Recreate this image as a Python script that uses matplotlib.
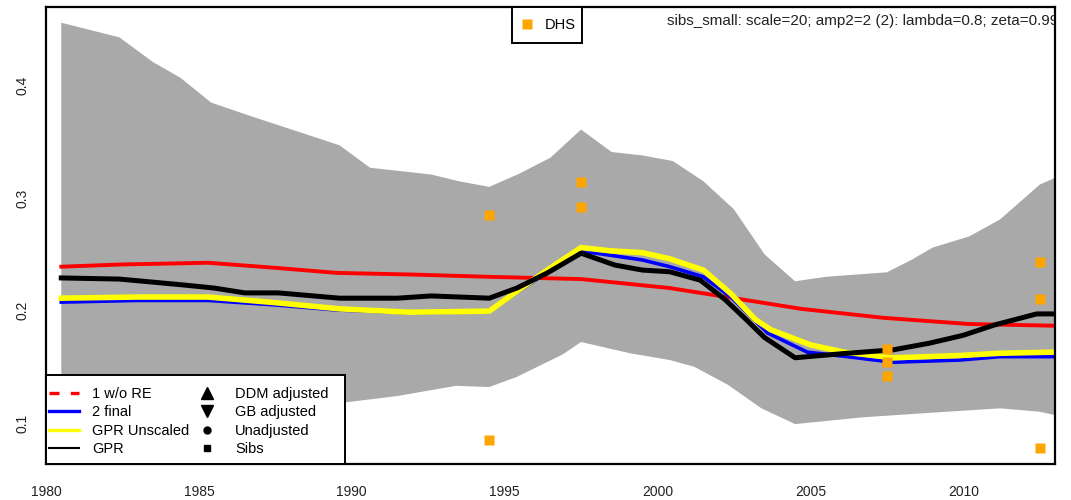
import numpy as np
import matplotlib
matplotlib.use("Agg")
from matplotlib import pyplot as plt
from matplotlib.lines import Line2D
from matplotlib.patches import Rectangle

plt.rcParams['font.family'] = ['Liberation Sans', 'DejaVu Sans']

# uncertainty band (grey)
band_up_x = [1980.5, 1982.4, 1983.5, 1984.4, 1985.4, 1986.8, 1987.7, 1989.6, 1990.6, 1991.6,
             1992.6, 1993.5, 1994.5, 1995.5, 1996.5, 1997.5, 1998.5, 1999.5, 2000.5, 2001.5,
             2002.5, 2003.5, 2004.5, 2005.5, 2006.5, 2007.5, 2008.3, 2009.0, 2010.2, 2011.2,
             2012.0, 2012.5, 2013.0]
band_up = [0.456, 0.443, 0.421, 0.407, 0.385, 0.372, 0.364, 0.347, 0.327, 0.324,
           0.321, 0.315, 0.310, 0.322, 0.336, 0.361, 0.341, 0.338, 0.333, 0.315,
           0.290, 0.250, 0.226, 0.230, 0.232, 0.234, 0.245, 0.256, 0.266, 0.281,
           0.300, 0.312, 0.318]
band_low_x = [1980.5, 1985.0, 1989.7, 1991.5, 1993.4, 1994.5, 1995.4, 1996.9, 1997.5, 1999.1,
              2000.4, 2001.2, 2002.3, 2003.4, 2004.5, 2006.7, 2008.9, 2011.2, 2012.5, 2013.0]
band_low = [0.085, 0.098, 0.118, 0.124, 0.133, 0.132, 0.141, 0.161, 0.172, 0.162,
            0.156, 0.150, 0.134, 0.113, 0.099, 0.105, 0.109, 0.113, 0.110, 0.107]

# 1 w/o RE (red)
red_x = [1980.5, 1982.5, 1985.3, 1987.5, 1989.5, 1992.0, 1994.5, 1997.5, 2000.4, 2002.5,
         2004.7, 2007.4, 2010.2, 2013.0]
red_y = [0.239, 0.241, 0.2425, 0.238, 0.2335, 0.232, 0.230, 0.228, 0.220, 0.211,
         0.2015, 0.1935, 0.188, 0.1865]

# 2 final (blue)
blue_x = [1980.5, 1983.0, 1985.3, 1987.5, 1989.5, 1992.0, 1994.5, 1995.5, 1996.5, 1997.5,
          1998.5, 1999.5, 2000.4, 2001.5, 2002.4, 2003.6, 2004.9, 2006.2, 2007.7, 2009.9,
          2011.2, 2013.0]
blue_y = [0.2075, 0.209, 0.209, 0.205, 0.2005, 0.198, 0.199, 0.218, 0.236, 0.253,
          0.249, 0.245, 0.239, 0.230, 0.212, 0.180, 0.163, 0.159, 0.154, 0.156,
          0.159, 0.159]

# GPR Unscaled (yellow)
yel_x = [1980.5, 1983.0, 1985.3, 1987.5, 1989.6, 1991.9, 1994.5, 1995.5, 1996.5, 1997.5,
         1998.5, 1999.5, 2000.4, 2001.5, 2002.4, 2003.2, 2003.7, 2005.0, 2006.1, 2007.7,
         2009.9, 2011.2, 2013.0]
yel_y = [0.211, 0.212, 0.212, 0.207, 0.2015, 0.1985, 0.1995, 0.219, 0.238, 0.256,
         0.253, 0.2515, 0.246, 0.236, 0.215, 0.192, 0.183, 0.1695, 0.163, 0.158,
         0.160, 0.162, 0.163]

# GPR (black)
gpr_x = [1980.5, 1982.4, 1984.4, 1985.5, 1986.5, 1987.6, 1989.6, 1991.5, 1992.6, 1994.5,
         1995.4, 1996.4, 1997.5, 1998.6, 1999.5, 2000.4, 2001.4, 2002.2, 2002.9, 2003.5,
         2004.5, 2006.2, 2007.7, 2008.9, 2010.0, 2011.0, 2012.4, 2013.0]
gpr_y = [0.229, 0.228, 0.223, 0.220, 0.2157, 0.2157, 0.211, 0.211, 0.213, 0.211,
         0.220, 0.2335, 0.251, 0.2405, 0.236, 0.2345, 0.227, 0.210, 0.192, 0.176,
         0.158, 0.162, 0.165, 0.171, 0.178, 0.187, 0.197, 0.197]

# DHS sibs points
dhs_x = [1994.5, 1994.5, 1997.5, 1997.5, 2007.5, 2007.5, 2007.5, 2012.5, 2012.5, 2012.5]
dhs_y = [0.285, 0.085, 0.3146, 0.292, 0.166, 0.154, 0.142, 0.2435, 0.210, 0.078]

x_ticks = [1980, 1985, 1990, 1995, 2000, 2005, 2010]
y_ticks = [0.1, 0.2, 0.3, 0.4]
title_txt = "sibs_small: scale=20; amp2=2 (2): lambda=0.8; zeta=0.99"


def main():
    fig = plt.figure(figsize=(10.71, 5.0), dpi=100)
    ax = fig.add_axes([46 / 1071, 36 / 500, (1055 - 46) / 1071, (493 - 36) / 500])

    poly_x = np.concatenate([band_up_x, band_low_x[::-1]])
    poly_y = np.concatenate([band_up, band_low[::-1]])
    ax.fill(poly_x, poly_y, color='#A9A9A9', lw=0, zorder=1)

    ax.plot(red_x, red_y, color='red', lw=2.8, zorder=2)
    ax.plot(blue_x, blue_y, color='blue', lw=2.6, zorder=3)
    ax.plot(yel_x, yel_y, color='yellow', lw=4.0, zorder=4)
    ax.plot(gpr_x, gpr_y, color='black', lw=3.6, zorder=5)
    ax.plot(dhs_x, dhs_y, ls='none', marker='s', ms=7.8, color='#FFA500', mec='none', zorder=6)

    ax.set_xlim(1980, 2013)
    ax.set_ylim(0.0635, 0.470)
    ax.set_xticks(x_ticks)
    ax.set_yticks(y_ticks)
    ax.set_yticklabels([str(v) for v in y_ticks], rotation=90, va='center')
    ax.tick_params(axis='both', length=0, labelsize=10, colors='#222222')
    ax.tick_params(axis='x', pad=15)
    ax.tick_params(axis='y', pad=12)
    for s in ax.spines.values():
        s.set_linewidth(1.6)
        s.set_zorder(10)

    ax.text(0.6155, 0.97, title_txt, transform=ax.transAxes, fontsize=11.0,
            ha='left', va='center', clip_on=True, color='#222222')

    # main legend, bottom left (frame drawn as a box, R style)
    W, H = 1009.0, 457.0
    ax.add_patch(Rectangle((0, 0), (345 - 46) / W, (464 - 375) / H, transform=ax.transAxes,
                           fc='white', ec='black', lw=1.4, zorder=19))
    handles = [
        Line2D([], [], color='red', lw=2.4, ls=(0, (3.0, 3.4))),
        Line2D([], [], color='blue', lw=2.4),
        Line2D([], [], color='yellow', lw=2.4),
        Line2D([], [], color='black', lw=1.5),
        Line2D([], [], color='black', ls='none', marker='^', ms=8),
        Line2D([], [], color='black', ls='none', marker='v', ms=8),
        Line2D([], [], color='black', ls='none', marker='o', ms=5),
        Line2D([], [], color='black', ls='none', marker='s', ms=5),
    ]
    labels = ['1 w/o RE', '2 final', 'GPR Unscaled', 'GPR',
              'DDM adjusted', 'GB adjusted', 'Unadjusted', 'Sibs']
    leg = ax.legend(handles, labels, loc='center left', ncol=2, fontsize=10.5,
                    bbox_to_anchor=(3 / W, (464 - 421.5) / H), frameon=False,
                    borderaxespad=0, borderpad=0, handlelength=2.05, handletextpad=0.89,
                    columnspacing=0.2, labelspacing=0.29)
    leg.set_zorder(20)
    ax.add_artist(leg)

    # DHS legend at top
    ax.add_patch(Rectangle(((512 - 46) / W, 1 - 36 / H), 70 / W, 36 / H, transform=ax.transAxes,
                           fc='white', ec='black', lw=1.4, zorder=19))
    dhs_h = [Line2D([], [], color='#FFA500', ls='none', marker='s', ms=7.8, mec='none')]
    leg2 = ax.legend(dhs_h, ['DHS'], loc='center left', fontsize=10.5, frameon=False,
                     bbox_to_anchor=((520 - 46) / W, 1 - 18 / H), borderaxespad=0,
                     borderpad=0, handlelength=1.0, handletextpad=0.71)
    leg2.set_zorder(20)

    fig.savefig("out.png", dpi=100)


if __name__ == "__main__":
    main()
